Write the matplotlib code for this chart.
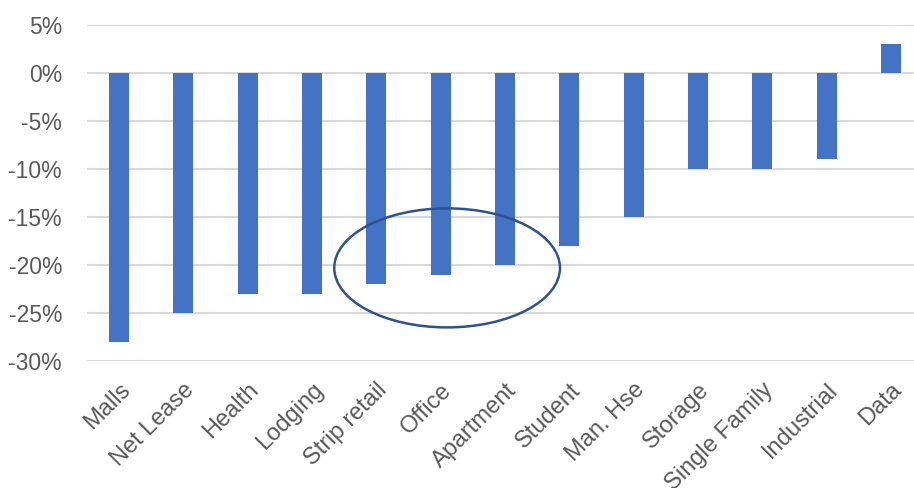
import matplotlib.pyplot as plt
from matplotlib.patches import Ellipse

plt.rcParams['font.family'] = ['Liberation Sans', 'DejaVu Sans']

categories = ["Malls", "Net Lease", "Health", "Lodging", "Strip retail", "Office",
              "Apartment", "Student", "Man. Hse", "Storage", "Single Family",
              "Industrial", "Data"]
changes = [-28, -25, -23, -23, -22, -21, -20, -18, -15, -10, -10, -9, 3]
yticks = [5, 0, -5, -10, -15, -20, -25, -30]

W, H = 914, 488
fig = plt.figure(figsize=(W / 100, H / 100), dpi=100)
# plot area in pixels: x 87..923 (right part cropped), y 25..361
ax = fig.add_axes([87 / W, (H - 361) / H, (923 - 87) / W, (361 - 25) / H])

x = list(range(len(categories)))
ax.bar(x, changes, width=0.31, color="#4472C4", zorder=3)

ax.set_xlim(-0.5, len(categories) - 0.5)
ax.set_ylim(-30, 5)
ax.set_yticks(yticks)
ax.set_yticklabels([f"{v}%" for v in yticks])
ax.yaxis.grid(True, color="#D9D9D9", linewidth=1.5, zorder=0)
ax.set_axisbelow(True)
for s in ax.spines.values():
    s.set_visible(False)
ax.tick_params(axis="both", length=0, labelcolor="#595959")
ax.tick_params(axis="y", labelsize=16.5, pad=18)

ax.set_xticks(x)
ax.set_xticklabels(categories, rotation=45, ha="right", va="top",
                   rotation_mode="anchor")
ax.tick_params(axis="x", labelsize=17, pad=13)

# highlight ellipse around Strip retail / Office / Apartment
ell = Ellipse((5.1, -20.3), 3.51, 12.4, fill=False, edgecolor="#2F528F",
              linewidth=1.8, zorder=4, clip_on=False)
ax.add_patch(ell)

fig.savefig("out.png", dpi=100)
